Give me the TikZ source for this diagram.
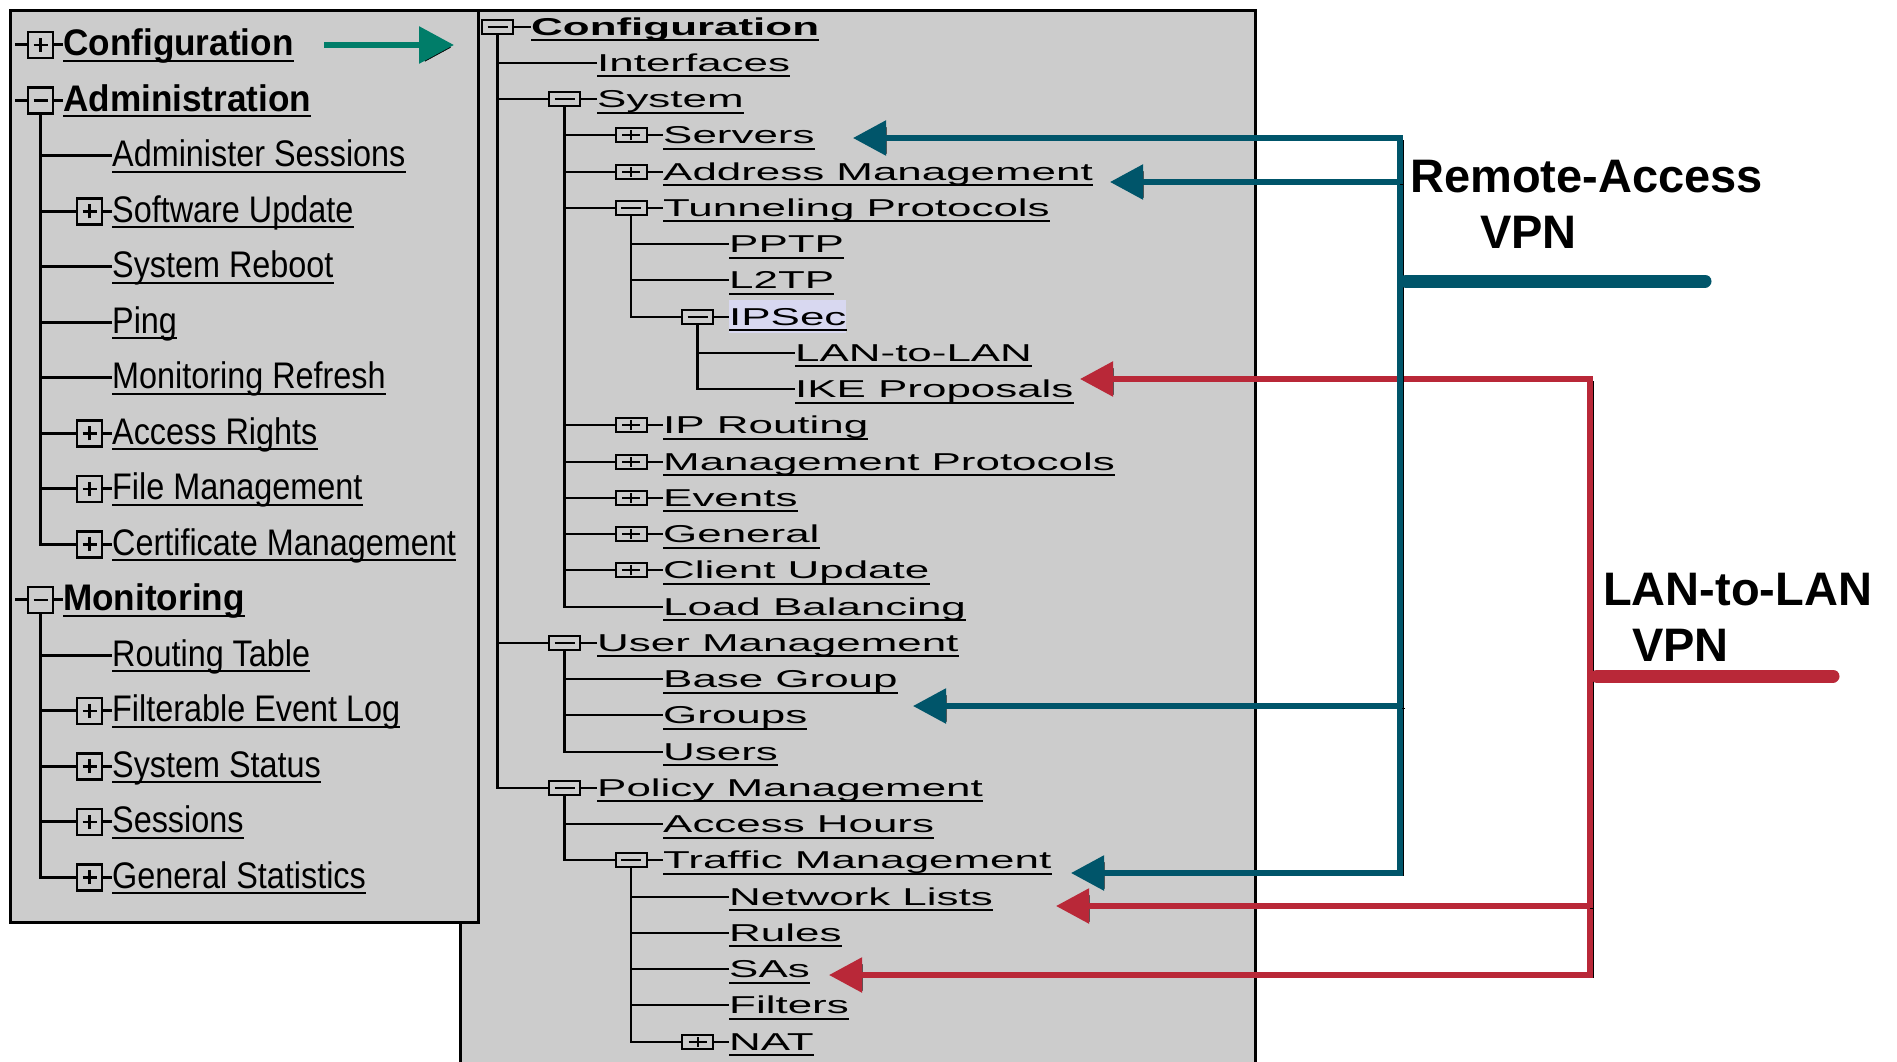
\documentclass[tikz,border=0pt]{standalone}
\usepackage{fontspec}
\usepackage{tikz}
\usetikzlibrary{arrows.meta}
\setmainfont{Liberation Sans}
\newfontfamily\lfont[FakeStretch=0.875]{Liberation Sans}
\newfontfamily\lbfont[FakeStretch=0.95]{Liberation Sans}
\newfontfamily\rfont[FakeStretch=1.8]{Liberation Sans}
\newfontfamily\vfont{Liberation Sans}

\definecolor{panelgray}{RGB}{204,204,204}
\definecolor{rablue}{RGB}{0,85,106}
\definecolor{lanred}{RGB}{185,40,56}
\definecolor{cfggreen}{RGB}{0,125,105}
\definecolor{selbg}{RGB}{216,216,240}

\tikzset{
  uline/.style={draw, line width=2.2pt},
  lul/.style={append after command={([yshift=-5pt]\tikzlastnode.base west) edge[uline] ([yshift=-5pt]\tikzlastnode.base east)}},
  rul/.style={append after command={([yshift=-5pt]\tikzlastnode.base west) edge[uline, line width=1.8pt] ([yshift=-5pt]\tikzlastnode.base east)}},
  ltext/.style={anchor=west, inner sep=0pt, text height=28pt, text depth=6pt, font=\lfont\fontsize{37}{40}\selectfont, lul},
  lhead/.style={ltext, font=\lbfont\bfseries\fontsize{37}{40}\selectfont},
  rtext/.style={anchor=west, inner sep=0pt, text height=20pt, text depth=3pt, font=\rfont\fontsize{24.4}{26}\selectfont, rul},
  rhead/.style={rtext, font=\rfont\bfseries\fontsize{24.4}{26}\selectfont},
  tline/.style={line width=2.8pt},
  rline/.style={line width=2.2pt},
  lbox/.style={draw, line width=2.5pt, fill=panelgray, minimum width=25pt, minimum height=26pt, inner sep=0pt},
  lplus/.style={lbox, path picture={\draw[line width=2.5pt]
      ([xshift=-7pt]path picture bounding box.center) -- ([xshift=7pt]path picture bounding box.center)
      ([yshift=-7pt]path picture bounding box.center) -- ([yshift=7pt]path picture bounding box.center);}},
  lminus/.style={lbox, path picture={\draw[line width=2.5pt]
      ([xshift=-7pt]path picture bounding box.center) -- ([xshift=7pt]path picture bounding box.center);}},
  rbox/.style={draw, line width=2pt, fill=panelgray, minimum width=31pt, minimum height=14pt, inner sep=0pt},
  rplus/.style={rbox, path picture={\draw[line width=2pt]
      ([xshift=-9pt]path picture bounding box.center) -- ([xshift=9pt]path picture bounding box.center)
      ([yshift=-5pt]path picture bounding box.center) -- ([yshift=5pt]path picture bounding box.center);}},
  rminus/.style={rbox, path picture={\draw[line width=2pt]
      ([xshift=-10pt]path picture bounding box.center) -- ([xshift=10pt]path picture bounding box.center);}},
  shadowed/.style={preaction={draw=black, transform canvas={shift={(3pt,-2.5pt)}}}},
  tips/.style={{Triangle[length=33pt,width=34pt]}-{Triangle[length=33pt,width=34pt]}},
  tip/.style={-{Triangle[length=33pt,width=34pt]}},
  raline/.style={rablue, line width=5.5pt, shadowed},
  lanline/.style={lanred, line width=5.5pt, shadowed},
  vpnlbl/.style={anchor=west, inner sep=0pt, font=\vfont\bfseries\fontsize{47}{50}\selectfont},
}

\begin{document}
\begin{tikzpicture}[x=1pt, y=-1pt]
\useasboundingbox (0,0) rectangle (1897,1061);

% panels
\fill[panelgray] (460,10) rectangle (1255,1075);
\draw[line width=3pt] (460,1075) -- (460,10) -- (1255,10) -- (1255,1075);
\draw[line width=3pt, fill=panelgray] (10,10) rectangle (478,922);

% left tree
\node[lplus] (bConf) at (40.5,44.8) {};
\node[lhead] (lConf) at (63,44.8) {Configuration};
\node[lminus] (bAdm) at (40.5,100.3) {};
\node[lhead] (lAdm) at (63,100.3) {Administration};
\node[ltext] (lAdmSes) at (112,155.8) {Administer Sessions};
\node[lplus] (bSwUpd) at (89.5,211.3) {};
\node[ltext] (lSwUpd) at (112,211.3) {Software Update};
\node[ltext] (lReboot) at (112,266.8) {System Reboot};
\node[ltext] (lPing) at (112,322.3) {Ping};
\node[ltext] (lMonRef) at (112,377.8) {Monitoring Refresh};
\node[lplus] (bAccess) at (89.5,433.3) {};
\node[ltext] (lAccess) at (112,433.3) {Access Rights};
\node[lplus] (bFile) at (89.5,488.8) {};
\node[ltext] (lFile) at (112,488.8) {File Management};
\node[lplus] (bCert) at (89.5,544.3) {};
\node[ltext] (lCert) at (112,544.3) {Certificate Management};
\node[lminus] (bMon) at (40.5,599.8) {};
\node[lhead] (lMon) at (63,599.8) {Monitoring};
\node[ltext] (lRoute) at (112,655.3) {Routing Table};
\node[lplus] (bEvtLog) at (89.5,710.8) {};
\node[ltext] (lEvtLog) at (112,710.8) {Filterable Event Log};
\node[lplus] (bStatus) at (89.5,766.3) {};
\node[ltext] (lStatus) at (112,766.3) {System Status};
\node[lplus] (bSess) at (89.5,821.8) {};
\node[ltext] (lSess) at (112,821.8) {Sessions};
\node[lplus] (bStats) at (89.5,877.3) {};
\node[ltext] (lStats) at (112,877.3) {General Statistics};

\coordinate (sConf) at (15,44.8);
\coordinate (sAdm) at (15,100.3);
\coordinate (sMon) at (15,599.8);

\draw[tline] (sConf) -- (bConf.west) (bConf.east) -- (lConf.west);
\draw[tline] (sAdm) -- (bAdm.west) (bAdm.east) -- (lAdm.west);
\draw[tline] (sMon) -- (bMon.west) (bMon.east) -- (lMon.west);
\draw[tline] (bAdm.south) |- (lAdmSes.west);
\draw[tline] (bAdm.south) |- (bSwUpd.west) (bSwUpd.east) -- (lSwUpd.west);
\draw[tline] (bAdm.south) |- (lReboot.west);
\draw[tline] (bAdm.south) |- (lPing.west);
\draw[tline] (bAdm.south) |- (lMonRef.west);
\draw[tline] (bAdm.south) |- (bAccess.west) (bAccess.east) -- (lAccess.west);
\draw[tline] (bAdm.south) |- (bFile.west) (bFile.east) -- (lFile.west);
\draw[tline] (bAdm.south) |- (bCert.west) (bCert.east) -- (lCert.west);
\draw[tline] (bMon.south) |- (lRoute.west);
\draw[tline] (bMon.south) |- (bEvtLog.west) (bEvtLog.east) -- (lEvtLog.west);
\draw[tline] (bMon.south) |- (bStatus.west) (bStatus.east) -- (lStatus.west);
\draw[tline] (bMon.south) |- (bSess.west) (bSess.east) -- (lSess.west);
\draw[tline] (bMon.south) |- (bStats.west) (bStats.east) -- (lStats.west);

% right tree
\node[rminus] (cConf) at (497.5,26.6) {};
\node[rhead] (rConf) at (531,26.6) {Configuration};
\node[rtext] (rIntf) at (597,62.85) {Interfaces};
\node[rminus] (cSys) at (564.5,99.1) {};
\node[rtext] (rSys) at (597,99.1) {System};
\node[rplus] (cSrv) at (631,135.35) {};
\node[rtext] (rSrv) at (663,135.35) {Servers};
\node[rplus] (cAddr) at (631,171.6) {};
\node[rtext] (rAddr) at (663,171.6) {Address Management};
\node[rminus] (cTun) at (631,207.85) {};
\node[rtext] (rTun) at (663,207.85) {Tunneling Protocols};
\node[rtext] (rPptp) at (729,244.1) {PPTP};
\node[rtext] (rL2tp) at (729,280.35) {L2TP};
\node[rminus] (cIpsec) at (697.5,316.6) {};
\node[rtext, fill=selbg, inner ysep=5pt] (rIpsec) at (729,316.6) {IPSec};
\node[rtext] (rLan) at (795,352.85) {LAN-to-LAN};
\node[rtext] (rIke) at (795,389.1) {IKE Proposals};
\node[rplus] (cIpRt) at (631,425.35) {};
\node[rtext] (rIpRt) at (663,425.35) {IP Routing};
\node[rplus] (cMgmt) at (631,461.6) {};
\node[rtext] (rMgmt) at (663,461.6) {Management Protocols};
\node[rplus] (cEvt) at (631,497.85) {};
\node[rtext] (rEvt) at (663,497.85) {Events};
\node[rplus] (cGen) at (631,534.1) {};
\node[rtext] (rGen) at (663,534.1) {General};
\node[rplus] (cCli) at (631,570.35) {};
\node[rtext] (rCli) at (663,570.35) {Client Update};
\node[rtext] (rLoad) at (663,606.6) {Load Balancing};
\node[rminus] (cUser) at (564.5,642.85) {};
\node[rtext] (rUser) at (597,642.85) {User Management};
\node[rtext] (rBase) at (663,679.1) {Base Group};
\node[rtext] (rGrp) at (663,715.35) {Groups};
\node[rtext] (rUsers) at (663,751.6) {Users};
\node[rminus] (cPol) at (564.5,787.85) {};
\node[rtext] (rPol) at (597,787.85) {Policy Management};
\node[rtext] (rHours) at (663,824.1) {Access Hours};
\node[rminus] (cTrf) at (631,860.35) {};
\node[rtext] (rTrf) at (663,860.35) {Traffic Management};
\node[rtext] (rNet) at (729,896.6) {Network Lists};
\node[rtext] (rRules) at (729,932.85) {Rules};
\node[rtext] (rSas) at (729,969.1) {SAs};
\node[rtext] (rFilt) at (729,1005.35) {Filters};
\node[rplus] (cNat) at (697.5,1041.6) {};
\node[rtext] (rNat) at (729,1041.6) {NAT};

\draw[rline] (cConf.east) -- (rConf.west);
\draw[rline] (cConf.south) |- (rIntf.west);
\draw[rline] (cConf.south) |- (cSys.west) (cSys.east) -- (rSys.west);
\draw[rline] (cSys.south) |- (cSrv.west) (cSrv.east) -- (rSrv.west);
\draw[rline] (cSys.south) |- (cAddr.west) (cAddr.east) -- (rAddr.west);
\draw[rline] (cSys.south) |- (cTun.west) (cTun.east) -- (rTun.west);
\draw[rline] (cTun.south) |- (rPptp.west);
\draw[rline] (cTun.south) |- (rL2tp.west);
\draw[rline] (cTun.south) |- (cIpsec.west) (cIpsec.east) -- (rIpsec.west);
\draw[rline] (cIpsec.south) |- (rLan.west);
\draw[rline] (cIpsec.south) |- (rIke.west);
\draw[rline] (cSys.south) |- (cIpRt.west) (cIpRt.east) -- (rIpRt.west);
\draw[rline] (cSys.south) |- (cMgmt.west) (cMgmt.east) -- (rMgmt.west);
\draw[rline] (cSys.south) |- (cEvt.west) (cEvt.east) -- (rEvt.west);
\draw[rline] (cSys.south) |- (cGen.west) (cGen.east) -- (rGen.west);
\draw[rline] (cSys.south) |- (cCli.west) (cCli.east) -- (rCli.west);
\draw[rline] (cSys.south) |- (rLoad.west);
\draw[rline] (cConf.south) |- (cUser.west) (cUser.east) -- (rUser.west);
\draw[rline] (cUser.south) |- (rBase.west);
\draw[rline] (cUser.south) |- (rGrp.west);
\draw[rline] (cUser.south) |- (rUsers.west);
\draw[rline] (cConf.south) |- (cPol.west) (cPol.east) -- (rPol.west);
\draw[rline] (cPol.south) |- (rHours.west);
\draw[rline] (cPol.south) |- (cTrf.west) (cTrf.east) -- (rTrf.west);
\draw[rline] (cTrf.south) |- (rNet.west);
\draw[rline] (cTrf.south) |- (rRules.west);
\draw[rline] (cTrf.south) |- (rSas.west);
\draw[rline] (cTrf.south) |- (rFilt.west);
\draw[rline] (cTrf.south) |- (cNat.west) (cNat.east) -- (rNat.west);

% expand arrow
\coordinate (gStart) at (324,45);
\coordinate (gTip) at (454,45);
\draw[cfggreen, line width=6pt, shadowed, -{Triangle[length=35pt,width=36pt]}] (gStart) -- (gTip);

% LAN-to-LAN VPN
\coordinate (lanTop) at (1590,379);
\coordinate (lanNet) at (1590,906);
\coordinate (lanBot) at (1590,975);
\coordinate (lanVpn) at (1597,676);
\coordinate (lanEnd) at (1833,676);
\coordinate (tIke) at (1080,379);
\coordinate (tNet) at (1056,906);
\coordinate (tSas) at (829,975);
\draw[lanline, tips] (tIke) -- (lanTop) -- (lanBot) -- (tSas);
\draw[lanline, tip] (lanNet) -- (tNet);
\draw[lanred, line width=13pt, line cap=round, shadowed] (lanVpn) -- (lanEnd);
\node[vpnlbl] (lanLbl) at (1603,590) {LAN-to-LAN};
\node[vpnlbl] (lanLbl2) at (1632,645) {VPN};

% Remote-Access VPN
\coordinate (raTop) at (1400,138);
\coordinate (raAdr) at (1400,182);
\coordinate (raGrp) at (1402,706);
\coordinate (raBot) at (1400,873);
\coordinate (raVpn) at (1406,281);
\coordinate (raEnd) at (1705,281);
\coordinate (tSrv) at (853,138);
\coordinate (tAdr) at (1110,182);
\coordinate (tGrp) at (913,706);
\coordinate (tTrf) at (1071,873);
\draw[raline, tips] (tTrf) -- (raBot) -- (raTop) -- (tSrv);
\draw[raline, tip] (raAdr) -- (tAdr);
\draw[raline, tip] (raGrp) -- (tGrp);
\draw[rablue, line width=13pt, line cap=round, shadowed] (raVpn) -- (raEnd);
\node[vpnlbl] (raLbl) at (1410,177) {Remote-Access};
\node[vpnlbl] (raLbl2) at (1480,232) {VPN};
\end{tikzpicture}
\end{document}
